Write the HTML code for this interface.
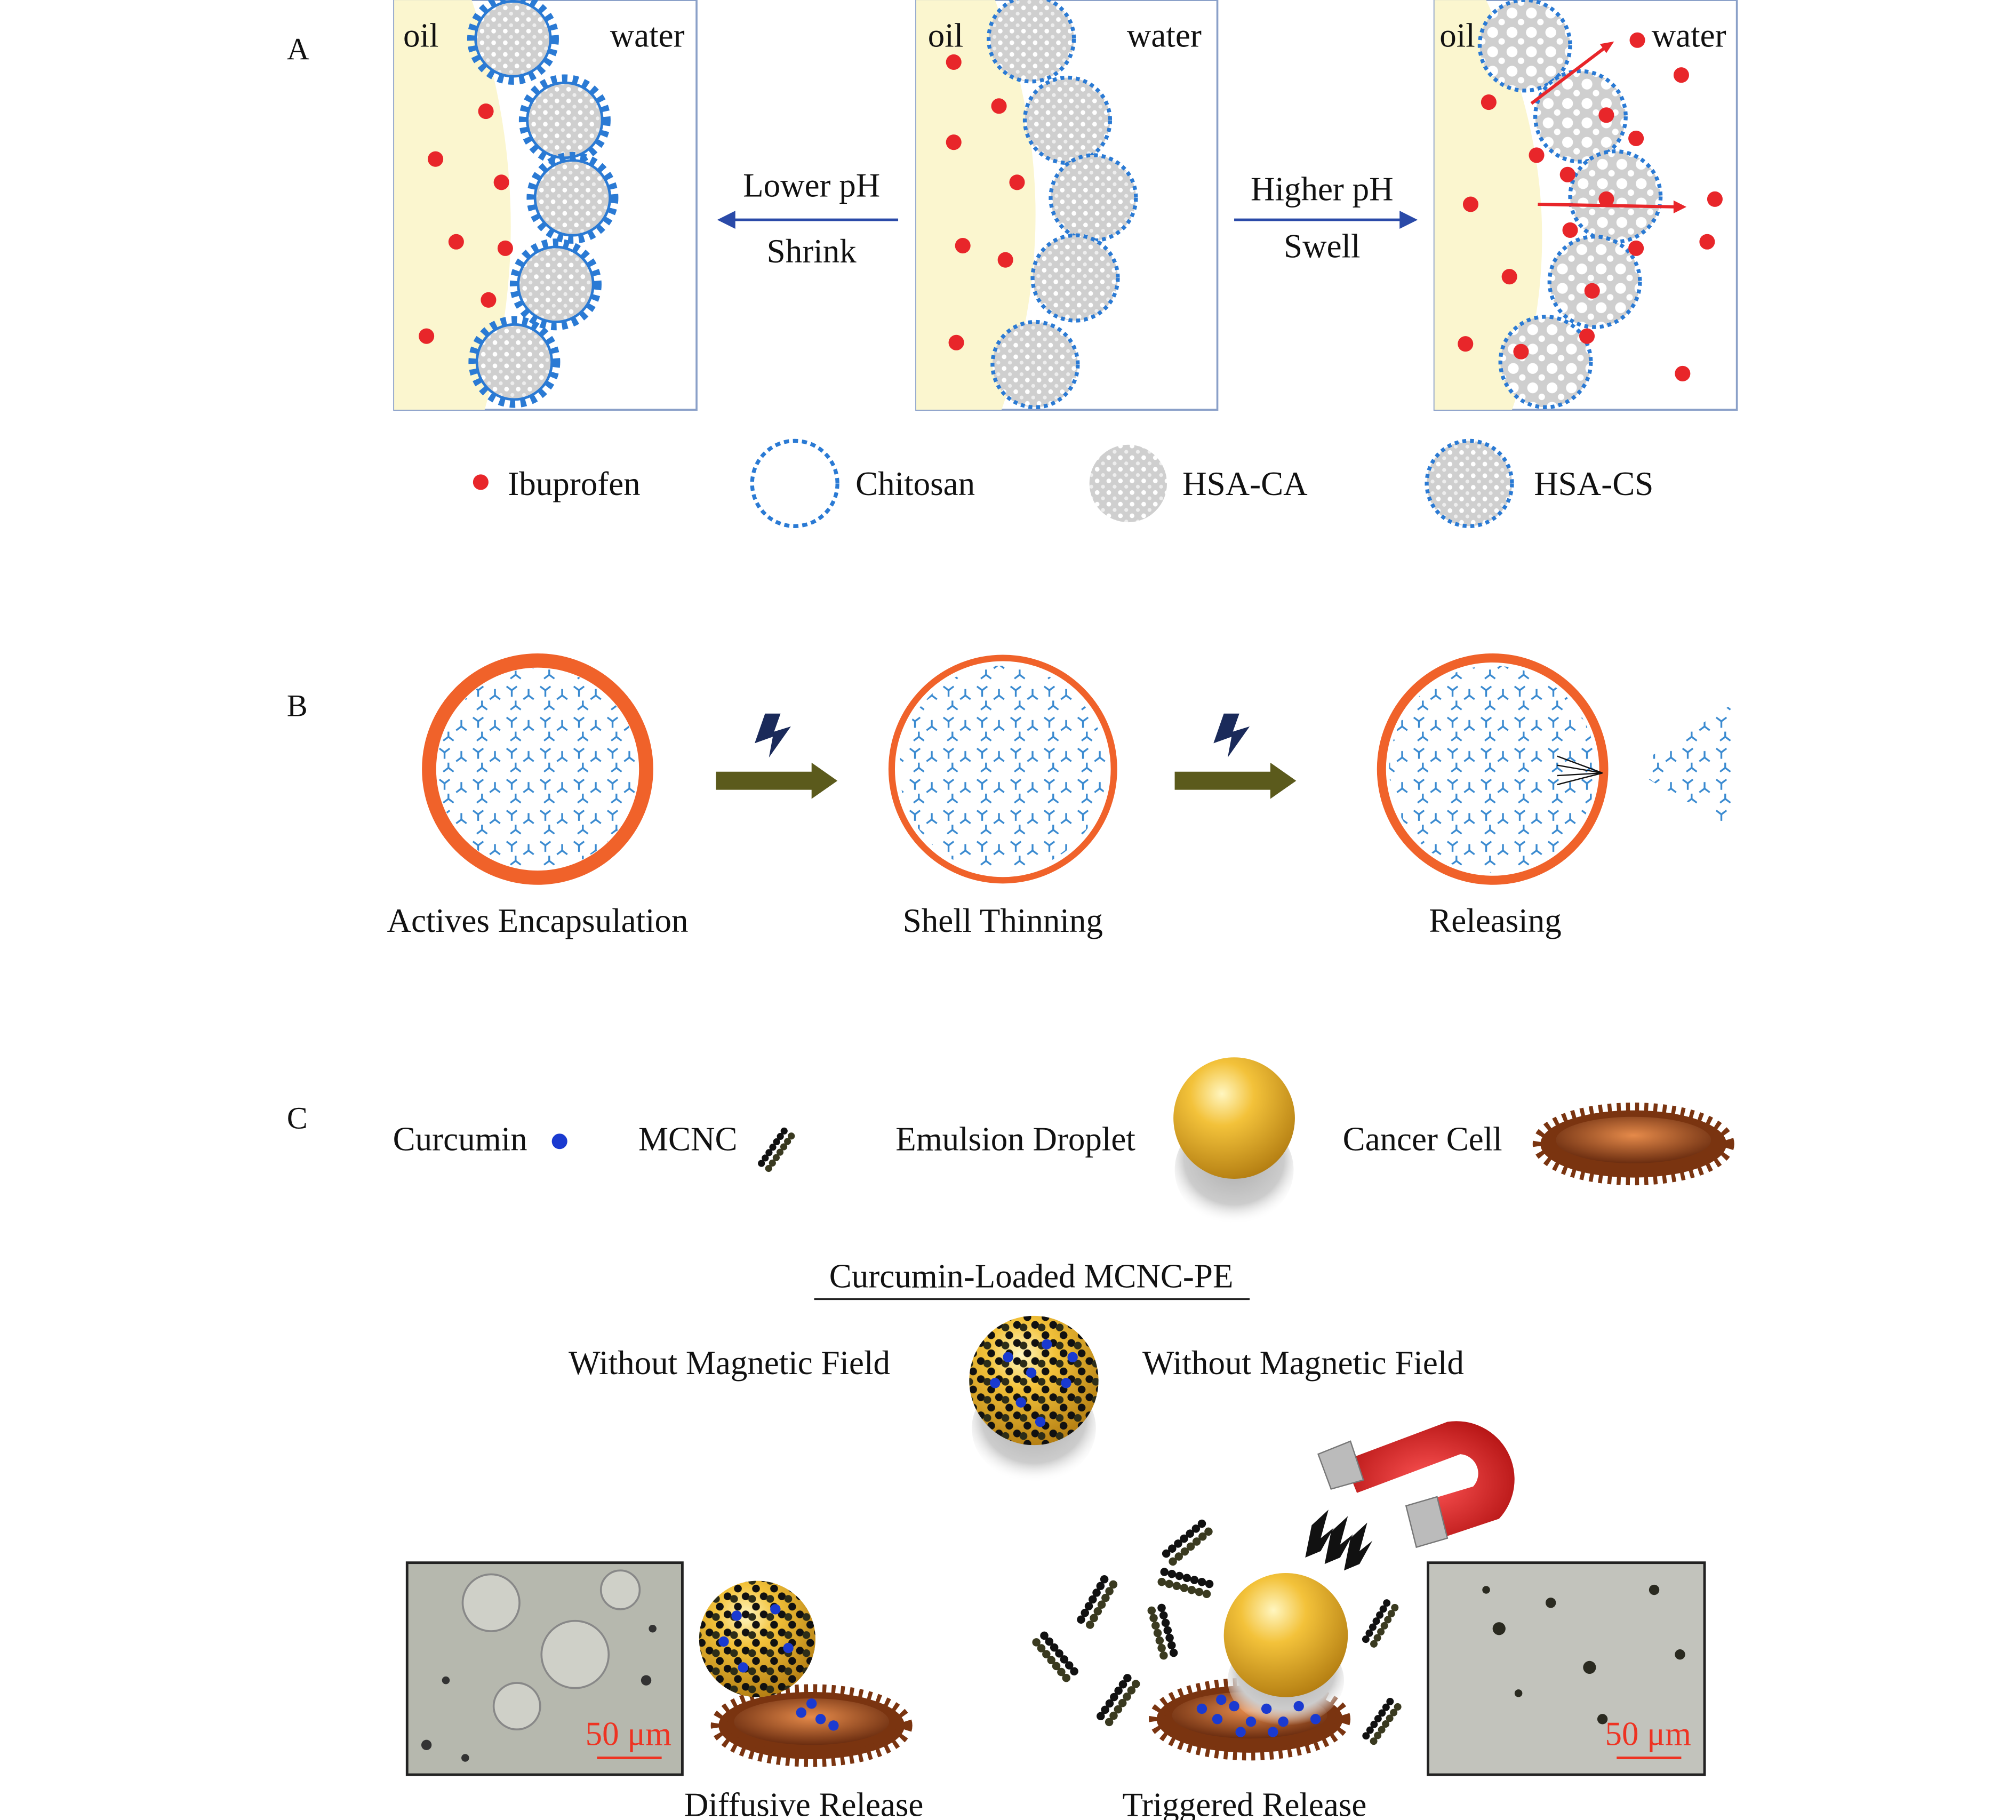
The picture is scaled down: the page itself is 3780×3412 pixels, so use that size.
<!DOCTYPE html>
<html><head><meta charset="utf-8"><style>
html,body{margin:0;padding:0;background:#fff}
svg{display:block}
text{font-family:"Liberation Serif",serif;fill:#111}
</style></head><body>
<svg xmlns="http://www.w3.org/2000/svg" xmlns:xlink="http://www.w3.org/1999/xlink" width="3780" height="3412" viewBox="0 0 1560 1408">
<defs>
<radialGradient id="gold" cx="0.4" cy="0.3" r="0.75"><stop offset="0" stop-color="#fff6c0"/><stop offset="0.35" stop-color="#f3c23a"/><stop offset="1" stop-color="#b07a10"/></radialGradient>
<radialGradient id="shadow" cx="0.5" cy="0.4" r="0.6"><stop offset="0" stop-color="#aaa"/><stop offset="0.7" stop-color="#ccc"/><stop offset="1" stop-color="#fff" stop-opacity="0"/></radialGradient>
<radialGradient id="cellg" cx="0.5" cy="0.4" r="0.6"><stop offset="0" stop-color="#e58a4a"/><stop offset="1" stop-color="#6b2d10"/></radialGradient>
<radialGradient id="mag" cx="0.5" cy="0.5" r="0.6"><stop offset="0" stop-color="#f55"/><stop offset="1" stop-color="#b01010"/></radialGradient>
<pattern id="hs" width="9" height="9" patternUnits="userSpaceOnUse"><rect width="9" height="9" fill="#cfcfcf"/><circle cx="3" cy="3" r="1.8" fill="#fff"/><circle cx="7.5" cy="7.5" r="1.5" fill="#eee"/></pattern>
<pattern id="hb" width="15" height="15" patternUnits="userSpaceOnUse"><rect width="15" height="15" fill="#cfcfcf"/><circle cx="5" cy="5" r="4.2" fill="#fff"/><circle cx="12" cy="12" r="2.5" fill="#fff"/></pattern>
<pattern id="ys" width="26" height="24" patternUnits="userSpaceOnUse">
<g stroke="#3a8ad0" stroke-width="1.4" fill="none">
<path d="M6,6 L6,11 M6,6 L2,3 M6,6 L10,3"/>
<path d="M19,10 L15,13 M19,10 L19,5 M19,10 L23,13"/>
<path d="M9,18 L13,21 M9,18 L5,21 M9,18 L9,14"/>
</g></pattern>
<pattern id="ch" width="14" height="14" patternUnits="userSpaceOnUse">
<circle cx="3" cy="3" r="3" fill="#111"/><circle cx="8" cy="5" r="3" fill="#2d2d18"/><circle cx="11" cy="11" r="3" fill="#111"/></pattern>
<g id="chain">
<circle cx="0" cy="-4" r="3.2" fill="#111"/><circle cx="0" cy="4" r="3.2" fill="#3a3a20"/>
<circle cx="6" cy="-4" r="3.2" fill="#111"/><circle cx="6" cy="4" r="3.2" fill="#3a3a20"/>
<circle cx="12" cy="-4" r="3.2" fill="#111"/><circle cx="12" cy="4" r="3.2" fill="#3a3a20"/>
<circle cx="18" cy="-4" r="3.2" fill="#111"/><circle cx="18" cy="4" r="3.2" fill="#3a3a20"/>
<circle cx="24" cy="-4" r="3.2" fill="#111"/><circle cx="24" cy="4" r="3.2" fill="#3a3a20"/>
<circle cx="30" cy="-4" r="3.2" fill="#111"/><circle cx="30" cy="4" r="3.2" fill="#3a3a20"/>
<circle cx="36" cy="-4" r="3.2" fill="#111"/><circle cx="36" cy="4" r="3.2" fill="#3a3a20"/>
</g>
<g id="pA"><circle r="31" fill="none" stroke="#2a7ad4" stroke-width="9" stroke-dasharray="4 4"/><circle r="29" fill="url(#hs)" stroke="#2a7ad4" stroke-width="2"/></g>
<g id="pB"><circle r="33" fill="url(#hs)" stroke="#2a7ad4" stroke-width="3" stroke-dasharray="3 3"/></g>
<g id="pC"><circle r="35" fill="url(#hb)" stroke="#2a7ad4" stroke-width="3" stroke-dasharray="3 3"/></g>
<g id="ccell"><ellipse rx="72" ry="26" fill="#7a3410" stroke="#7a3410" stroke-width="12" stroke-dasharray="3 4"/><ellipse cy="-3" rx="60" ry="18" fill="url(#cellg)"/></g>
<clipPath id="c1"><circle cx="416" cy="595" r="78"/></clipPath>
<clipPath id="c2"><circle cx="776" cy="595" r="80"/></clipPath>
<clipPath id="c3"><circle cx="1155" cy="595" r="80"/></clipPath>
<clipPath id="c4"><polygon points="1262,595 1340,545 1340,640"/></clipPath>
</defs>
<g font-size="24">
<text x="222" y="46">A</text>
<text x="222" y="554">B</text>
<text x="222" y="873">C</text>
</g>
<rect x="305" y="0" width="234" height="317" fill="#fff" stroke="#8aa0c8" stroke-width="1.5"/>
<path d="M305,0 L365,0 Q420,160 375,317 L305,317Z" fill="#fbf6cf"/>
<rect x="709" y="0" width="233" height="317" fill="#fff" stroke="#8aa0c8" stroke-width="1.5"/>
<path d="M709,0 L770,0 Q830,160 775,317 L709,317Z" fill="#fbf6cf"/>
<rect x="1110" y="0" width="234" height="317" fill="#fff" stroke="#8aa0c8" stroke-width="1.5"/>
<path d="M1110,0 L1150,0 Q1225,160 1170,317 L1110,317Z" fill="#fbf6cf"/>
<use href="#pA" x="397" y="30"/><use href="#pA" x="437" y="93"/><use href="#pA" x="443" y="153"/><use href="#pA" x="430" y="220"/><use href="#pA" x="398" y="280"/>
<use href="#pB" x="798" y="30"/><use href="#pB" x="826" y="93"/><use href="#pB" x="846" y="153"/><use href="#pB" x="832" y="215"/><use href="#pB" x="801" y="282"/>
<use href="#pC" x="1180" y="35"/><use href="#pC" x="1223" y="90"/><use href="#pC" x="1250" y="152"/><use href="#pC" x="1234" y="218"/><use href="#pC" x="1196" y="280"/>
<g fill="#e8262a">
<circle cx="376" cy="86" r="6"/><circle cx="337" cy="123" r="6"/><circle cx="388" cy="141" r="6"/><circle cx="353" cy="187" r="6"/><circle cx="391" cy="192" r="6"/><circle cx="378" cy="232" r="6"/><circle cx="330" cy="260" r="6"/>
<circle cx="738" cy="48" r="6"/><circle cx="773" cy="82" r="6"/><circle cx="738" cy="110" r="6"/><circle cx="787" cy="141" r="6"/><circle cx="745" cy="190" r="6"/><circle cx="778" cy="201" r="6"/><circle cx="740" cy="265" r="6"/>
<circle cx="1267" cy="31" r="6"/><circle cx="1301" cy="58" r="6"/><circle cx="1152" cy="79" r="6"/><circle cx="1243" cy="89" r="6"/><circle cx="1266" cy="107" r="6"/><circle cx="1189" cy="120" r="6"/><circle cx="1213" cy="135" r="6"/><circle cx="1243" cy="154" r="6"/><circle cx="1327" cy="154" r="6"/><circle cx="1138" cy="158" r="6"/><circle cx="1215" cy="178" r="6"/><circle cx="1321" cy="187" r="6"/><circle cx="1266" cy="192" r="6"/><circle cx="1168" cy="214" r="6"/><circle cx="1232" cy="225" r="6"/><circle cx="1228" cy="260" r="6"/><circle cx="1134" cy="266" r="6"/><circle cx="1177" cy="272" r="6"/><circle cx="1302" cy="289" r="6"/>
<circle cx="372" cy="373" r="6"/>
</g>
<g stroke="#e8262a" stroke-width="2.5"><line x1="1185" y1="80" x2="1243" y2="36"/><line x1="1190" y1="158" x2="1298" y2="160"/></g>
<polygon points="1249,32 1238,34 1243,41" fill="#e8262a"/><polygon points="1305,160 1295,155 1295,165" fill="#e8262a"/>
<circle cx="615" cy="374" r="33" fill="none" stroke="#2a7ad4" stroke-width="3" stroke-dasharray="4 3"/>
<circle cx="873" cy="374" r="30" fill="url(#hs)"/>
<use href="#pB" x="1137" y="374"/>
<line x1="695" y1="170" x2="565" y2="170" stroke="#2a4aa8" stroke-width="2"/>
<polygon points="555,170 569,163 569,177" fill="#2a4aa8"/>
<line x1="955" y1="170" x2="1085" y2="170" stroke="#2a4aa8" stroke-width="2"/>
<polygon points="1097,170 1083,163 1083,177" fill="#2a4aa8"/>
<g font-size="26">
<text x="312" y="36">oil</text><text x="472" y="36">water</text>
<text x="718" y="36">oil</text><text x="872" y="36">water</text>
<text x="1114" y="36">oil</text><text x="1278" y="36">water</text>
<text x="628" y="152" text-anchor="middle">Lower pH</text>
<text x="628" y="203" text-anchor="middle">Shrink</text>
<text x="1023" y="155" text-anchor="middle">Higher pH</text>
<text x="1023" y="199" text-anchor="middle">Swell</text>
<text x="393" y="383">Ibuprofen</text>
<text x="662" y="383">Chitosan</text>
<text x="915" y="383">HSA-CA</text>
<text x="1187" y="383">HSA-CS</text>
<text x="416" y="721" text-anchor="middle">Actives Encapsulation</text>
<text x="776" y="721" text-anchor="middle">Shell Thinning</text>
<text x="1157" y="721" text-anchor="middle">Releasing</text>
<text x="304" y="890">Curcumin</text>
<text x="494" y="890">MCNC</text>
<text x="693" y="890">Emulsion Droplet</text>
<text x="1039" y="890">Cancer Cell</text>
<text x="798" y="996" text-anchor="middle">Curcumin-Loaded MCNC-PE</text>
<text x="440" y="1063">Without Magnetic Field</text>
<text x="884" y="1063">Without Magnetic Field</text>
<text x="622" y="1405" text-anchor="middle">Diffusive Release</text>
<text x="963" y="1405" text-anchor="middle">Triggered Release</text>
</g>
<line x1="630" y1="1005" x2="967" y2="1005" stroke="#222" stroke-width="1.5"/>
<!-- B -->
<circle cx="416" cy="595" r="84" fill="#fff" stroke="#f0622a" stroke-width="11"/>
<rect x="330" y="510" width="175" height="175" fill="url(#ys)" clip-path="url(#c1)"/>
<circle cx="776" cy="595" r="86" fill="#fff" stroke="#f0622a" stroke-width="5"/>
<rect x="690" y="510" width="175" height="175" fill="url(#ys)" clip-path="url(#c2)"/>
<circle cx="1155" cy="595" r="86" fill="#fff" stroke="#f0622a" stroke-width="7"/>
<rect x="1070" y="510" width="175" height="175" fill="url(#ys)" clip-path="url(#c3)"/>
<rect x="1255" y="540" width="90" height="100" fill="url(#ys)" clip-path="url(#c4)"/>
<g stroke="#111" stroke-width="1"><line x1="1205" y1="585" x2="1240" y2="598"/><line x1="1205" y1="592" x2="1240" y2="598"/><line x1="1205" y1="600" x2="1240" y2="598"/><line x1="1205" y1="607" x2="1240" y2="598"/></g>
<g fill="#5b5a1c">
<rect x="554" y="597" width="76" height="14"/><polygon points="628,590 648,604 628,618"/>
<rect x="909" y="597" width="76" height="14"/><polygon points="983,590 1003,604 983,618"/>
</g>
<g fill="#1a2a5a">
<polygon points="592,552 584,575 598,570 595,586 612,562 599,566 604,552"/>
<polygon points="947,552 939,575 953,570 950,586 967,562 954,566 959,552"/>
</g>
<!-- C -->
<circle cx="433" cy="883" r="6" fill="#1a3ad0"/>
<use href="#chain" transform="translate(592,902) rotate(-55) scale(0.85)"/>
<ellipse cx="955" cy="905" rx="46" ry="42" fill="url(#shadow)"/>
<circle cx="955" cy="865" r="47" fill="url(#gold)"/>
<use href="#ccell" x="1264" y="885"/>
<ellipse cx="800" cy="1105" rx="48" ry="42" fill="url(#shadow)"/>
<circle cx="800" cy="1068" r="50" fill="url(#gold)"/>
<circle cx="800" cy="1068" r="50" fill="url(#ch)"/>
<g fill="#1a3ad0"><circle cx="780" cy="1050" r="4"/><circle cx="810" cy="1040" r="4"/><circle cx="825" cy="1070" r="4"/><circle cx="790" cy="1085" r="4"/><circle cx="770" cy="1070" r="4"/><circle cx="805" cy="1100" r="4"/><circle cx="830" cy="1050" r="4"/><circle cx="798" cy="1062" r="4"/></g>
<!-- magnet -->
<path d="M1040,1130 L1120,1100 A45,45 0 0 1 1160,1175 L1100,1195 L1090,1165 L1140,1150 A15,15 0 0 0 1130,1125 L1050,1155Z" fill="url(#mag)"/>
<polygon points="1020,1125 1045,1115 1055,1145 1030,1152" fill="#bbb" stroke="#777"/>
<polygon points="1088,1165 1112,1158 1120,1190 1096,1197" fill="#bbb" stroke="#777"/>
<g fill="#111">
<polygon points="1015,1180 1028,1168 1022,1190 1032,1182 1022,1200 1010,1205"/>
<polygon points="1030,1185 1043,1173 1037,1195 1047,1187 1037,1205 1025,1210"/>
<polygon points="1045,1190 1058,1178 1052,1200 1062,1192 1052,1210 1040,1215"/>
</g>
<!-- photos -->
<rect x="315" y="1209" width="213" height="164" fill="#b6b8ae" stroke="#222" stroke-width="2"/>
<g fill="#cfd0c8" stroke="#888" stroke-width="1.5">
<circle cx="380" cy="1240" r="22"/><circle cx="445" cy="1280" r="26"/><circle cx="400" cy="1320" r="18"/><circle cx="480" cy="1230" r="15"/>
</g>
<g fill="#333"><circle cx="330" cy="1350" r="4"/><circle cx="345" cy="1300" r="3"/><circle cx="500" cy="1300" r="4"/><circle cx="505" cy="1260" r="3"/><circle cx="360" cy="1360" r="3"/></g>
<rect x="1105" y="1209" width="214" height="164" fill="#c2c3bc" stroke="#222" stroke-width="2"/>
<g fill="#2a2a20"><circle cx="1160" cy="1260" r="5"/><circle cx="1200" cy="1240" r="4"/><circle cx="1230" cy="1290" r="5"/><circle cx="1280" cy="1230" r="4"/><circle cx="1300" cy="1280" r="4"/><circle cx="1175" cy="1310" r="3"/><circle cx="1240" cy="1330" r="4"/><circle cx="1150" cy="1230" r="3"/></g>
<g font-size="26"><text x="453" y="1350" style="fill:#e32">50 μm</text><text x="1242" y="1350" style="fill:#e32">50 μm</text></g>
<line x1="462" y1="1360" x2="512" y2="1360" stroke="#e32" stroke-width="2"/>
<line x1="1251" y1="1360" x2="1301" y2="1360" stroke="#e32" stroke-width="2"/>
<!-- diffusive -->
<use href="#ccell" x="628" y="1335"/>
<circle cx="586" cy="1268" r="45" fill="url(#gold)"/>
<circle cx="586" cy="1268" r="45" fill="url(#ch)"/>
<g fill="#1a3ad0"><circle cx="570" cy="1250" r="4"/><circle cx="600" cy="1245" r="4"/><circle cx="610" cy="1275" r="4"/><circle cx="575" cy="1290" r="4"/><circle cx="560" cy="1270" r="4"/><circle cx="620" cy="1325" r="4"/><circle cx="635" cy="1330" r="4"/><circle cx="628" cy="1318" r="4"/><circle cx="645" cy="1335" r="4"/></g>
<!-- triggered -->
<use href="#ccell" x="967" y="1330"/>
<ellipse cx="995" cy="1300" rx="45" ry="35" fill="url(#shadow)"/>
<circle cx="995" cy="1265" r="48" fill="url(#gold)"/>
<g fill="#1a3ad0"><circle cx="930" cy="1322" r="4"/><circle cx="942" cy="1330" r="4"/><circle cx="955" cy="1320" r="4"/><circle cx="968" cy="1332" r="4"/><circle cx="980" cy="1322" r="4"/><circle cx="993" cy="1332" r="4"/><circle cx="1005" cy="1320" r="4"/><circle cx="1018" cy="1330" r="4"/><circle cx="960" cy="1340" r="4"/><circle cx="985" cy="1340" r="4"/><circle cx="945" cy="1315" r="4"/></g>
<use href="#chain" transform="translate(805,1268) rotate(50)"/>
<use href="#chain" transform="translate(840,1255) rotate(-60)"/>
<use href="#chain" transform="translate(855,1330) rotate(-55)"/>
<use href="#chain" transform="translate(895,1245) rotate(75)"/>
<use href="#chain" transform="translate(905,1205) rotate(-40)"/>
<use href="#chain" transform="translate(900,1220) rotate(15)"/>
<use href="#chain" transform="translate(1060,1270) rotate(-60) scale(0.9)"/>
<use href="#chain" transform="translate(1060,1345) rotate(-55) scale(0.9)"/>
</svg>
</body></html>
